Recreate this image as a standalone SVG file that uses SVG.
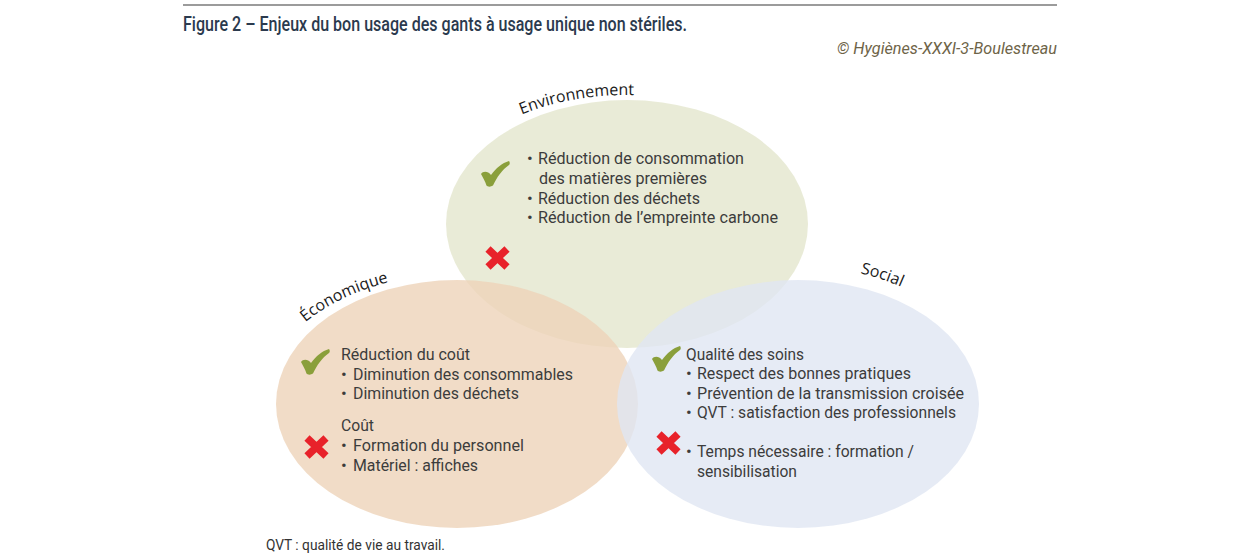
<svg xmlns="http://www.w3.org/2000/svg" width="1240" height="556" viewBox="0 0 1240 556">
<style>
.ell{fill-opacity:0.8}
.body{font-family:Roboto,"Liberation Sans",sans-serif;font-weight:400;font-size:17px;fill:#3c3c3c}
.lbl{font-family:"Open Sans","Liberation Sans",sans-serif;font-size:16px;fill:#1a1a1a}
.chk{fill:#8a9f3b}
.x{stroke:#e8222a;stroke-width:7.5;stroke-linecap:butt;fill:none}
</style>
<defs>
<path id="chk" d="M0,13 C2,10 7,10 10,14 C15,7 21,2 28,0 C29,1.5 29,3 28,4 C21,9 16,16 12,24.5 C10,26 6.5,26 5.5,24.5 C4,20 2,16.5 0,13 Z"/>
<g id="xm"><path d="M2,2 L21,20 M21,2 L2,20"/></g>
<path id="pEnv" d="M512.3,118.3 A200,129 0 0 1 661.7,97"/>
<path id="pEco" d="M288.1,339 A195,130 0 0 1 423.1,276"/>
<path id="pSoc" d="M848.5,270.7 A195,138 0 0 1 947.4,315.3"/>
</defs>
<rect width="1240" height="556" fill="#ffffff"/>
<line x1="183" y1="5" x2="1057" y2="5" stroke="#7a7a7a" stroke-width="1.5"/>
<text x="183" y="31" font-family="Roboto,'Liberation Sans',sans-serif" font-weight="500" font-size="20" fill="#2b3a4e" textLength="504" lengthAdjust="spacingAndGlyphs">Figure 2 – Enjeux du bon usage des gants à usage unique non stériles.</text>
<text x="1057" y="54" text-anchor="end" font-family="Roboto,'Liberation Sans',sans-serif" font-style="italic" font-size="17" fill="#6e6448" textLength="220" lengthAdjust="spacingAndGlyphs">© Hygiènes-XXXI-3-Boulestreau</text>

<g id="environnement">
<ellipse class="ell" cx="627" cy="224" rx="181" ry="124" fill="#e4e6cd"/>
</g>
<g id="economique">
<ellipse class="ell" cx="457" cy="404" rx="181" ry="124" fill="#eed3b9"/>
</g>
<g id="social">
<ellipse class="ell" cx="798" cy="404" rx="181" ry="124" fill="#e0e6f3"/>
</g>

<g id="environnement-content">
<text class="lbl"><textPath href="#pEnv" startOffset="10">Environnement</textPath></text>
<use href="#chk" class="chk" x="481" y="161"/>
<use href="#xm" class="x" x="486" y="247"/>
<text class="body" x="527" y="164">•</text>
<text class="body" x="538" y="164" textLength="206" lengthAdjust="spacingAndGlyphs">Réduction de consommation</text>
<text class="body" x="539" y="183.5" textLength="168" lengthAdjust="spacingAndGlyphs">des matières premières</text>
<text class="body" x="527" y="203.5">•</text>
<text class="body" x="538" y="203.5" textLength="162" lengthAdjust="spacingAndGlyphs">Réduction des déchets</text>
<text class="body" x="527" y="223">•</text>
<text class="body" x="538" y="223" textLength="240" lengthAdjust="spacingAndGlyphs">Réduction de l’empreinte carbone</text>
</g>

<g id="economique-content">
<text class="lbl"><textPath href="#pEco" startOffset="24">Économique</textPath></text>
<use href="#chk" class="chk" x="301" y="349"/>
<use href="#xm" class="x" x="305" y="436"/>
<text class="body" x="341" y="359.5" textLength="129" lengthAdjust="spacingAndGlyphs">Réduction du coût</text>
<text class="body" x="341" y="379.5">•</text>
<text class="body" x="353" y="379.5" textLength="220" lengthAdjust="spacingAndGlyphs">Diminution des consommables</text>
<text class="body" x="341" y="399">•</text>
<text class="body" x="353" y="399" textLength="166" lengthAdjust="spacingAndGlyphs">Diminution des déchets</text>
<text class="body" x="341" y="430.5" textLength="33" lengthAdjust="spacingAndGlyphs">Coût</text>
<text class="body" x="341" y="450.5">•</text>
<text class="body" x="353" y="450.5" textLength="171" lengthAdjust="spacingAndGlyphs">Formation du personnel</text>
<text class="body" x="341" y="470.5">•</text>
<text class="body" x="353" y="470.5" textLength="125" lengthAdjust="spacingAndGlyphs">Matériel : affiches</text>
</g>

<g id="social-content">
<text class="lbl"><textPath href="#pSoc" startOffset="12">Social</textPath></text>
<use href="#chk" class="chk" x="652" y="346"/>
<use href="#xm" class="x" x="657" y="432"/>
<text class="body" x="686" y="359.5" textLength="118" lengthAdjust="spacingAndGlyphs">Qualité des soins</text>
<text class="body" x="686" y="379">•</text>
<text class="body" x="697" y="379" textLength="214" lengthAdjust="spacingAndGlyphs">Respect des bonnes pratiques</text>
<text class="body" x="686" y="398.5">•</text>
<text class="body" x="697" y="398.5" textLength="267" lengthAdjust="spacingAndGlyphs">Prévention de la transmission croisée</text>
<text class="body" x="686" y="418">•</text>
<text class="body" x="697" y="418" textLength="259" lengthAdjust="spacingAndGlyphs">QVT : satisfaction des professionnels</text>
<text class="body" x="686" y="457">•</text>
<text class="body" x="697" y="457" textLength="217" lengthAdjust="spacingAndGlyphs">Temps nécessaire : formation /</text>
<text class="body" x="697" y="477" textLength="100" lengthAdjust="spacingAndGlyphs">sensibilisation</text>
</g>

<g id="connectors"></g>

<text x="266" y="550" font-family="Roboto,'Liberation Sans',sans-serif" font-weight="400" font-size="15" fill="#333333" textLength="179" lengthAdjust="spacingAndGlyphs">QVT : qualité de vie au travail.</text>
</svg>
